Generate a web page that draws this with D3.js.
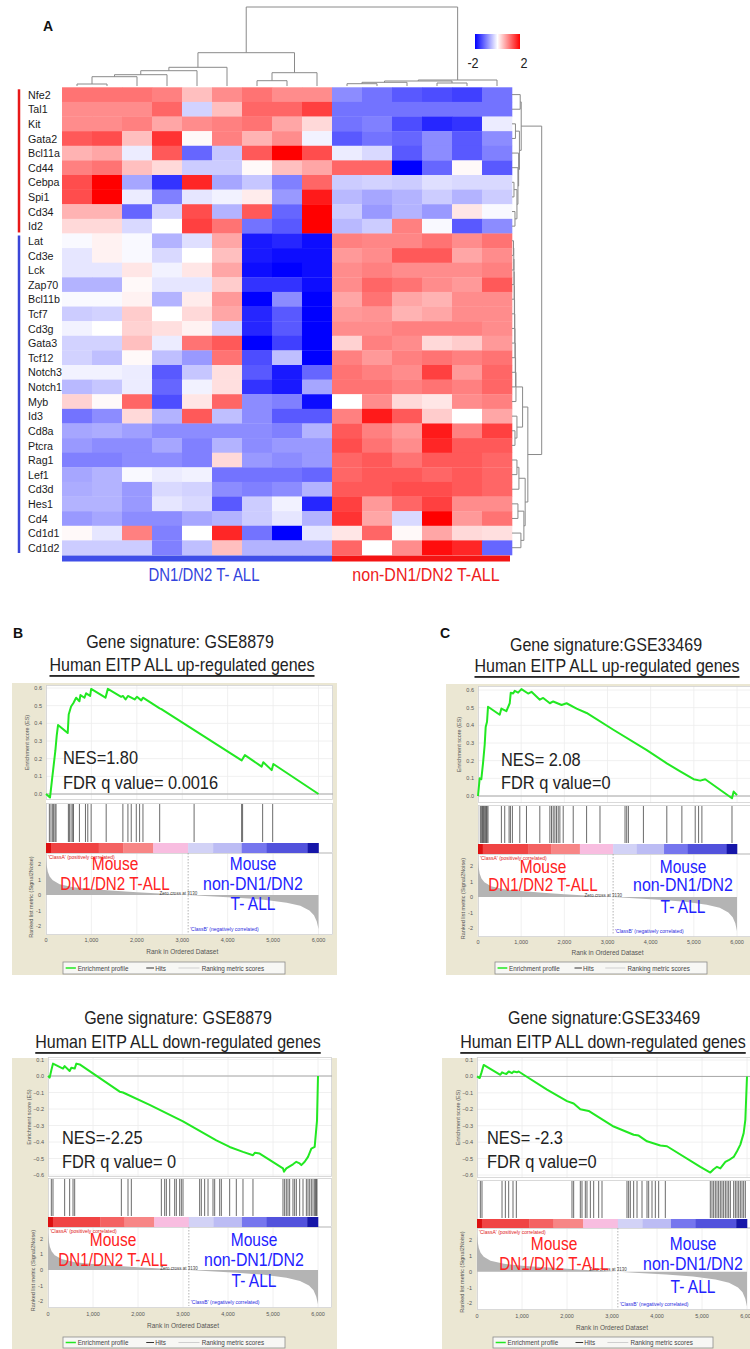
<!DOCTYPE html>
<html>
<head>
<meta charset="utf-8">
<script src="https://cdn.jsdelivr.net/npm/d3@7"></script>
<style>
  body { margin: 0; background: #fff; }
  svg { display: block; }
  text { font-family: "Liberation Sans", Arial, sans-serif; }
</style>
</head>
<body>
<script>
// ---- heatmap data ----
var genes = ["Nfe2","Tal1","Kit","Gata2","Bcl11a","Cd44","Cebpa","Spi1","Cd34","Id2",
  "Lat","Cd3e","Lck","Zap70","Bcl11b","Tcf7","Cd3g","Gata3","Tcf12","Notch3","Notch1","Myb",
  "Id3","Cd8a","Ptcra","Rag1","Lef1","Cd3d","Hes1","Cd4","Cd1d1","Cd1d2"];
var nUpGenes = 10;          // first 10 genes = red group
var nDnCols = 9;            // first 9 samples = DN1/DN2 T-ALL
var groupNames = ["DN1/DN2 T- ALL", "non-DN1/DN2 T-ALL"];

// z-scores, one row per gene, 15 samples
var heat = [
  [1.1,1.1,1.1,1.0,0.5,0.9,1.1,0.9,0.9,-0.9,-1.1,-1.3,-1.4,-1.5,-1.1],
  [0.9,0.9,0.9,1.2,-0.35,0.5,1.2,1.2,1.5,-1.1,-1.1,-1.1,-1.1,-1.1,-1.1],
  [0.9,0.9,1.0,0.7,0.9,1.0,1.1,0.7,0.3,-1.1,-1.0,-1.4,-1.7,-1.6,-0.15],
  [1.3,1.4,0.5,1.6,0.05,1.0,0.6,0.9,-0.1,-1.3,-1.1,-1.2,-0.9,-1.3,-0.9],
  [0.6,0.7,-0.15,1.3,-1.2,-0.45,1.3,2.0,1.4,-0.15,-0.3,-1.3,-0.9,-1.3,-1.0],
  [1.0,1.1,0.5,0.3,-0.4,-0.4,0.05,0.5,0.7,1.2,1.2,-2.0,-1.2,0.05,-1.3],
  [1.4,2.0,-0.7,-1.6,1.7,-0.7,-0.45,-1.0,1.2,-0.4,-0.35,-0.4,-0.25,-0.3,-0.3],
  [1.4,2.0,-0.15,-1.0,-0.2,-0.1,0.15,-0.8,1.8,-0.55,-0.7,-0.6,-0.4,-0.6,-0.4],
  [0.6,0.6,-1.2,-0.35,1.4,-0.6,1.3,-1.2,2.0,-0.4,-0.8,-0.6,-0.8,0.2,-0.05],
  [0.3,0.3,-0.3,0.0,1.5,1.1,-1.1,-1.3,2.0,-0.55,-0.4,1.0,-0.05,-1.3,-0.9],
  [-0.05,0.1,-0.05,-0.6,-0.25,0.7,-1.8,-1.7,-1.9,1.0,0.95,0.95,1.1,0.9,1.1],
  [-0.2,0.1,-0.05,-0.3,0.0,0.5,-1.8,-1.9,-1.9,0.8,0.9,1.3,1.3,0.7,0.9],
  [-0.2,-0.2,0.2,-0.1,0.2,0.7,-1.9,-2.0,-1.9,0.9,1.0,0.9,0.9,0.9,1.0],
  [-0.6,-0.6,0.05,-0.2,-0.2,0.4,-1.6,-1.6,-1.9,0.9,1.2,1.1,0.9,0.8,1.3],
  [-0.05,-0.05,0.1,-0.6,0.15,0.8,-2.0,-0.9,-2.0,0.7,1.1,0.7,0.6,0.9,0.9],
  [-0.4,-0.35,0.4,0.0,0.3,0.7,-1.7,-1.3,-2.0,0.8,0.85,0.6,0.7,0.9,0.9],
  [-0.1,0.0,0.35,0.25,0.1,-0.35,-1.7,-1.3,-2.0,0.9,0.9,1.0,1.0,1.0,0.9],
  [-0.35,-0.35,0.5,-0.15,1.1,1.3,-2.0,-1.5,-2.0,0.35,1.0,0.9,0.3,0.4,0.8],
  [-0.35,-0.5,0.05,-0.5,-0.8,1.1,-1.4,-0.5,-2.0,1.0,0.8,1.0,1.1,1.0,1.1],
  [-0.1,-0.1,-0.15,-1.3,-0.45,0.25,-1.3,-1.8,-1.2,1.1,1.0,0.9,1.5,0.8,1.2],
  [-0.55,-0.45,-0.15,-1.2,-0.1,0.25,-1.6,-1.8,-0.7,1.1,1.1,1.0,1.1,1.0,1.2],
  [0.35,0.05,1.2,-1.4,0.2,1.2,-0.9,-1.0,-1.9,0.0,0.9,0.3,0.2,0.9,1.0],
  [-1.1,-0.9,0.3,-0.6,1.3,-0.5,-0.9,-1.3,-1.3,1.0,1.8,1.3,0.4,0.0,0.7],
  [-0.7,-0.65,-0.75,-0.9,-0.9,-0.9,-0.9,-1.0,-0.6,1.3,1.0,0.8,1.8,1.0,1.5],
  [-0.8,-0.9,-0.9,-0.7,-1.0,-0.6,-0.9,-0.8,-0.8,1.4,1.1,0.9,1.7,1.3,1.3],
  [-1.0,-1.0,-0.9,-0.9,-1.0,0.3,-0.8,-0.9,-0.8,1.2,1.3,1.1,1.3,1.3,1.2],
  [-0.7,-0.6,-0.05,-0.15,-0.1,-1.1,-1.1,-1.1,-1.2,1.2,1.3,1.3,1.2,1.3,1.2],
  [-0.65,-0.6,-0.8,-0.3,-0.35,-0.9,-1.0,-0.9,-0.6,1.3,1.3,1.4,1.4,1.3,1.2],
  [-0.6,-0.6,-0.8,-0.2,-0.3,-1.3,-0.4,-0.1,-1.7,1.5,0.8,1.2,1.5,0.9,0.9],
  [-0.8,-0.7,-0.9,-0.9,-0.7,-0.6,-0.4,-0.2,-0.6,1.6,0.7,-0.3,2.0,0.8,1.1],
  [0.05,-0.2,1.0,-1.0,0.0,1.7,-1.1,-2.0,-0.2,0.2,1.2,0.05,0.7,0.3,0.25],
  [-0.4,-0.4,-0.4,-1.0,-0.5,0.5,-0.6,-0.6,-0.6,1.2,0.0,0.9,1.9,1.7,-1.2]
];

// dendrograms, linkage style [childA, childB, height]; ids >= n are earlier merges
var colMerges = [[0,1,2.0],[15,2,9.3],[16,3,11.3],[17,4,15.3],[18,5,18.7],[6,7,5.3],
  [20,8,13.3],[19,21,33.3],[9,10,2.3],[23,11,3.7],[12,13,3.0],[24,25,5.0],[26,14,6.0],[22,27,79]];
var rowMerges = [[0,1,8.3],[2,3,3.5],[6,7,2.0],[8,9,3.0],[34,35,5.0],[5,36,6.0],[4,37,6.7],
  [33,38,7.5],[32,39,9.3],
  [10,11,1.5],[41,12,1.8],[42,13,2.0],[43,14,2.2],[44,15,2.4],[45,16,2.6],[46,17,2.8],
  [47,18,3.0],[48,19,3.3],[49,20,3.6],[50,21,4.0],
  [23,24,3.0],[22,52,5.0],[51,53,10.7],
  [25,26,5.0],[55,27,7.0],[28,29,6.0],[30,31,9.0],[57,58,12.0],[56,59,13.3],
  [54,60,16.0],[40,61,30.0]];

// ---- GSEA data (rank, ES) ----
var esB1 = [[0,0],[88,-0.02],[132,0.08],[170,0.165],[206,0.245],[236,0.33],[265,0.39],[478,0.345],
  [500,0.45],[552,0.495],[604,0.515],[663,0.545],[736,0.525],[758,0.56],[847,0.545],[883,0.57],
  [972,0.555],[994,0.595],[1310,0.545],[1362,0.595],[1656,0.55],[1693,0.555],[1752,0.535],
  [1804,0.555],[1951,0.535],[2002,0.55],[2098,0.53],[2135,0.545],[2503,0.485],[2540,0.48],
  [4307,0.19],[4380,0.22],[4748,0.155],[4785,0.18],[4969,0.135],[5006,0.17],[6000,0]];
var hitsB1 = [74,110,147,169,199,221,493,515,552,589,604,736,869,920,994,1325,1693,1804,1877,
  1988,2061,2135,2503,3261,4307,4329,4770,4991];

var esC1 = [[0,0],[39,0.1],[77,0.095],[116,0.185],[155,0.29],[178,0.39],[209,0.42],[232,0.505],
  [503,0.46],[542,0.495],[658,0.48],[735,0.525],[759,0.585],[813,0.58],[852,0.595],[929,0.585],
  [1006,0.605],[1161,0.58],[1239,0.59],[1432,0.545],[1510,0.555],[1665,0.525],[1742,0.535],
  [1936,0.515],[2052,0.525],[2284,0.495],[2516,0.47],[3135,0.375],[3910,0.26],[4374,0.185],
  [4684,0.14],[4994,0.095],[5148,0.087],[5264,0.095],[5884,-0.013],[5923,0.025],[6000,0.005]];
var hitsC1 = [54,77,101,116,132,155,178,194,209,232,542,619,720,751,797,968,1123,1432,1665,
  1703,1742,1781,1819,1858,1897,1974,2206,2516,2826,3406,3445,3484,3832,4374,4723,5032,5110,
  5187,5884];

var esB2 = [[0,0],[37,-0.01],[74,0.035],[111,0.075],[333,0.045],[370,0.06],[481,0.03],[518,0.05],
  [593,0.045],[630,0.075],[704,0.07],[1593,-0.095],[1667,-0.1],[2259,-0.175],[3000,-0.275],
  [3741,-0.39],[4037,-0.43],[4333,-0.46],[4555,-0.48],[4600,-0.465],[4704,-0.47],[5222,-0.56],
  [5244,-0.58],[5296,-0.56],[5444,-0.535],[5518,-0.52],[5593,-0.53],[5630,-0.54],[5704,-0.52],
  [5778,-0.49],[5852,-0.44],[5926,-0.43],[5978,-0.27],[6000,0]];
var hitsB2 = [74,111,370,481,556,593,1630,1778,1852,2519,2593,2630,2704,2815,2852,2926,2963,
  3000,3370,3407,3481,3556,3667,3704,3815,3852,4037,4185,4333,4555,5222,5259,5296,5333,5370,
  5444,5481,5519,5593,5667,5741,5778,5815,5852,5889,5926,5948,5963,5978];

var esC2 = [[0,0],[59,-0.01],[96,0.02],[148,0.07],[519,0.01],[556,0.025],[593,0.02],[652,0.015],
  [704,0.03],[778,0.02],[815,0.03],[889,0.025],[926,0.03],[1037,0.01],[1556,-0.08],[2000,-0.15],
  [2148,-0.165],[2296,-0.2],[2481,-0.21],[3037,-0.305],[3481,-0.355],[3593,-0.36],[3778,-0.395],
  [4074,-0.42],[4222,-0.425],[4963,-0.55],[5185,-0.585],[5259,-0.565],[5333,-0.55],[5407,-0.56],
  [5519,-0.52],[5593,-0.51],[5704,-0.49],[5778,-0.455],[5852,-0.415],[5926,-0.345],[5963,-0.265],
  [6000,0]];
var hitsC2 = [74,111,556,630,704,800,874,2111,2148,2296,2333,2407,2444,2519,2593,2704,2778,
  3333,3370,3407,3481,3556,3667,3778,3815,3889,3963,4037,4185,5185,5222,5259,5296,5333,5370,
  5407,5444,5481,5519,5556,5593,5630,5704,5741,5778,5815,5852,5889,5926,5963];

// ranked list metric (Signal2Noise), shared by all four panels
var rankedMetric = [[0,2.4],[15,1.9],[40,1.5],[80,1.2],[150,0.95],[300,0.7],[600,0.5],[1000,0.38],
  [1500,0.28],[2000,0.18],[2600,0.08],[3130,0],[3600,-0.08],[4200,-0.18],[4800,-0.3],[5300,-0.5],
  [5600,-0.7],[5800,-1.0],[5900,-1.3],[5960,-1.7],[6000,-2.2]];
var zeroCross = 3130;
var colorBarEdges = [0,110,1160,1700,2360,3130,3680,4310,4860,5760,6000];
var colorBarLevels = [5,4,3,2,1,-1,-2,-3,-4,-5];
var rankTicks = [0,1000,2000,3000,4000,5000,6000];
var metricTicks = [-2,-1,0,1,2];
var esTicksUp = [0,0.1,0.2,0.3,0.4,0.5,0.6];
var esTicksDown = [0.1,0,-0.1,-0.2,-0.3,-0.4,-0.5,-0.6];

var panelTitles = ["Gene signature:  GSE8879","Gene signature:GSE33469","Gene signature:  GSE8879","Gene signature:GSE33469"];
var panelSubtitles = ["Human  EITP ALL up-regulated genes","Human  EITP ALL up-regulated genes",
  "Human  EITP ALL down-regulated genes","Human  EITP ALL down-regulated genes"];
var nesLabels = ["NES=1.80","NES= 2.08","NES=-2.25","NES= -2.3"];
var fdrLabels = ["FDR q value= 0.0016","FDR q value=0","FDR q value= 0","FDR q value=0"];

// ---- page ----
var svg = d3.select("body").append("svg").attr("width", 750).attr("height", 1349);

function label(g, s, x, y, size, sx, fill, anchor) {
  return g.append("text")
    .attr("transform", "translate(" + x + "," + y + ") scale(" + sx + ",1)")
    .attr("font-size", size).attr("fill", fill)
    .attr("text-anchor", anchor || "start")
    .attr("dominant-baseline", "central")
    .text(s);
}

/* ===== panel A: heatmap ===== */
var hx = d3.scaleBand().domain(d3.range(15)).range([62, 512]);
var hy = d3.scaleBand().domain(genes).range([87.3, 555]);
var heatColor = d3.scaleLinear().domain([-2, 0, 2]).range(["#0000ff", "#ffffff", "#ff0000"]).clamp(true);

var cells = [];
heat.forEach(function(row, i) {
  row.forEach(function(v, j) { cells.push({g: genes[i], c: j, v: v}); });
});
svg.append("g").selectAll("rect").data(cells).join("rect")
  .attr("x", function(d) { return hx(d.c); })
  .attr("y", function(d) { return hy(d.g); })
  .attr("width", hx.bandwidth() + 0.3)
  .attr("height", hy.bandwidth() + 0.3)
  .attr("fill", function(d) { return heatColor(d.v); });

// gene labels
var gl = svg.append("g");
genes.forEach(function(d) {
  label(gl, d, 28, hy(d) + hy.bandwidth() / 2, 11.5, 0.93, "#1a1a1a");
});

// group side lines
svg.append("line").attr("x1", 19).attr("x2", 19)
  .attr("y1", hy(genes[0]) + 2).attr("y2", hy(genes[nUpGenes - 1]) + hy.bandwidth() - 1)
  .attr("stroke", "#e81818").attr("stroke-width", 2.5);
svg.append("line").attr("x1", 19).attr("x2", 19)
  .attr("y1", hy(genes[nUpGenes]) + 2).attr("y2", hy(genes[genes.length - 1]) + hy.bandwidth() - 2)
  .attr("stroke", "#3a46d8").attr("stroke-width", 2.5);

// sample group bars + labels
svg.append("rect").attr("x", hx(0)).attr("y", 555.5)
  .attr("width", hx(nDnCols) - hx(0)).attr("height", 6).attr("fill", "#3f4ee8");
svg.append("rect").attr("x", hx(nDnCols)).attr("y", 555.5)
  .attr("width", hx(14) + hx.bandwidth() - 2 - hx(nDnCols)).attr("height", 6).attr("fill", "#f41414");
label(svg, groupNames[0], (hx(0) + hx(nDnCols)) / 2 + 7, 575, 18, 0.83, "#3344dd", "middle");
label(svg, groupNames[1], (hx(nDnCols) + hx(14) + hx.bandwidth()) / 2 + 4, 575, 18, 0.89, "#ee2020", "middle");

// dendrograms
function dendroPaths(merges, n, leafPos, hScale, top) {
  var pos = [], ht = [], out = [];
  for (var i = 0; i < n; i++) { pos.push(leafPos(i)); ht.push(0); }
  merges.forEach(function(m) {
    var a = m[0], b = m[1], h = m[2];
    if (top)
      out.push("M" + pos[a] + "," + hScale(ht[a]) + "V" + hScale(h) + "H" + pos[b] + "V" + hScale(ht[b]));
    else
      out.push("M" + hScale(ht[a]) + "," + pos[a] + "H" + hScale(h) + "V" + pos[b] + "H" + hScale(ht[b]));
    pos.push((pos[a] + pos[b]) / 2);
    ht.push(h);
  });
  return out;
}
var colH = d3.scaleLinear().domain([0, 79]).range([86, 7]);
var rowH = d3.scaleLinear().domain([0, 30]).range([512, 541.7]);
svg.append("g").selectAll("path")
  .data(dendroPaths(colMerges, 15, function(i) { return hx(i) + hx.bandwidth() / 2; }, colH, true))
  .join("path").attr("d", function(d) { return d; })
  .attr("fill", "none").attr("stroke", "#8a8a8a").attr("stroke-width", 1);
svg.append("g").selectAll("path")
  .data(dendroPaths(rowMerges, genes.length, function(i) { return hy(genes[i]) + hy.bandwidth() / 2; }, rowH, false))
  .join("path").attr("d", function(d) { return d; })
  .attr("fill", "none").attr("stroke", "#8a8a8a").attr("stroke-width", 1);

// colour key
var defs = svg.append("defs");
var grad = defs.append("linearGradient").attr("id", "key");
[-2, -1, 0, 1, 2].forEach(function(v) {
  grad.append("stop").attr("offset", ((v + 2) / 4 * 100) + "%").attr("stop-color", heatColor(v));
});
var keyX = d3.scaleLinear().domain([-2, 2]).range([475, 520]);
svg.append("rect").attr("x", keyX(-2)).attr("y", 34).attr("width", keyX(2) - keyX(-2)).attr("height", 15)
  .attr("fill", "url(#key)");
label(svg, "-2", keyX(-2) - 2, 63, 14, 0.9, "#222", "middle");
label(svg, "2", keyX(2) + 4, 63, 14, 0.9, "#222", "middle");
label(svg, "A", 48, 26, 14, 1, "#111", "middle").attr("font-weight", "bold");

/* ===== panels B / C: GSEA plots ===== */
var gseaLayouts = [
  {letter: "B", lx: 18, ly: 633, tx: 180, ty: 642, sx: 182, sy: 665,
   box: [12, 683, 337, 975], plot: [46, 685, 333, 935], xr: [46, 318.5], esDom: [0, 0.6], esRng: [794, 688], esBot: 800,
   hits: [803, 842], cb: [843, 853], rl0: 895, rlU: 15.5, tickY: 940, labY: 951, leg: [63, 962, 285, 974],
   nes: [63, 758, 783], red: [115, 864, 884], blue: [253, 864, 884, 904]},
  {letter: "C", lx: 445, ly: 633, tx: 606, ty: 645, sx: 607, sy: 666,
   box: [446, 684, 750, 975], plot: [478, 686, 752, 937], xr: [478, 737], esDom: [0, 0.6], esRng: [796, 690], esBot: 803,
   hits: [805, 843], cb: [844, 854], rl0: 897, rlU: 15.5, tickY: 942, labY: 952, leg: [495, 962, 707, 974],
   nes: [501, 760, 783], red: [543, 867, 885], blue: [683, 867, 885, 907]},
  {letter: "", tx: 178, ty: 1018, sx: 178, sy: 1042,
   box: [12, 1058, 337, 1349], plot: [48, 1057, 332, 1308], xr: [48, 318], esDom: [-0.6, 0.1], esRng: [1175, 1059.5], esBot: 1177,
   hits: [1178, 1216], cb: [1217, 1227], rl0: 1270, rlU: 15.6, tickY: 1314, labY: 1325, leg: [63, 1337, 285, 1348],
   nes: [62, 1138, 1162], red: [113, 1240, 1260], blue: [254, 1240, 1260, 1281]},
  {letter: "", tx: 604, ty: 1018, sx: 603, sy: 1042,
   box: [442, 1058, 750, 1349], plot: [477, 1057, 752, 1310], xr: [477, 747], esDom: [-0.6, 0.1], esRng: [1175, 1060], esBot: 1178,
   hits: [1180, 1218], cb: [1219, 1228], rl0: 1271.7, rlU: 15.8, tickY: 1316, labY: 1327, leg: [493, 1337, 713, 1348],
   nes: [487, 1138, 1162], red: [554, 1244, 1264], blue: [693, 1244, 1264, 1287]}
];
var gseaData = [[esB1, hitsB1], [esC1, hitsC1], [esB2, hitsB2], [esC2, hitsC2]];

var barColor = d3.scaleOrdinal().domain([5, 4, 3, 2, 1, -1, -2, -3, -4, -5])
  .range(["#dc1010", "#f04444", "#f46262", "#f78686", "#f8bde0", "#d2d2f6", "#bcbcf4", "#7676ee", "#5252dc", "#1616a8"]);

function gsea(L, k) {
  var es = gseaData[k][0], hits = gseaData[k][1];
  var g = svg.append("g");
  var xr = d3.scaleLinear().domain([0, 6000]).range(L.xr);
  var ye = d3.scaleLinear().domain(L.esDom).range(L.esRng);
  var yr = d3.scaleLinear().domain([-2, 2]).range([L.rl0 + 2 * L.rlU, L.rl0 - 2 * L.rlU]);
  var esTicks = L.esDom[0] < 0 ? esTicksDown : esTicksUp;
  var pl = L.plot[0], pt = L.plot[1], pr = L.plot[2], pb = L.plot[3];

  g.append("rect").attr("x", L.box[0]).attr("y", L.box[1])
    .attr("width", L.box[2] - L.box[0]).attr("height", L.box[3] - L.box[1]).attr("fill", "#ebe7d3");
  g.append("rect").attr("x", pl).attr("y", pt).attr("width", pr - pl).attr("height", pb - pt).attr("fill", "#fff");

  // grid
  rankTicks.forEach(function(t) {
    g.append("line").attr("x1", xr(t)).attr("x2", xr(t)).attr("y1", pt).attr("y2", L.esBot)
      .attr("stroke", "#ececec").attr("stroke-width", 0.8);
    g.append("line").attr("x1", xr(t)).attr("x2", xr(t)).attr("y1", L.cb[1]).attr("y2", pb)
      .attr("stroke", "#ececec").attr("stroke-width", 0.8);
  });
  esTicks.forEach(function(t) {
    g.append("line").attr("x1", pl).attr("x2", pr).attr("y1", ye(t)).attr("y2", ye(t))
      .attr("stroke", "#ececec").attr("stroke-width", 0.8);
  });
  // frames
  [[pt, L.esBot], [L.hits[0], L.cb[1]], [L.cb[1], pb]].forEach(function(f) {
    g.append("rect").attr("x", pl + 0.5).attr("y", f[0] + 0.5).attr("width", pr - pl - 1).attr("height", f[1] - f[0] - 1)
      .attr("fill", "none").attr("stroke", "#d0d0d0").attr("stroke-width", 0.8);
  });
  g.append("line").attr("x1", pl).attr("x2", pr).attr("y1", ye(0)).attr("y2", ye(0))
    .attr("stroke", "#a8a8a8").attr("stroke-width", 1);

  // hits
  g.append("g").selectAll("line").data(hits).join("line")
    .attr("x1", function(d) { return xr(d); }).attr("x2", function(d) { return xr(d); })
    .attr("y1", L.hits[0] + 1).attr("y2", L.hits[1])
    .attr("stroke", "#3c3c3c").attr("stroke-width", 0.9).attr("stroke-opacity", 0.85);

  // colour bar
  colorBarLevels.forEach(function(v, i) {
    g.append("rect").attr("x", xr(colorBarEdges[i])).attr("y", L.cb[0])
      .attr("width", xr(colorBarEdges[i + 1]) - xr(colorBarEdges[i]) + 0.3).attr("height", L.cb[1] - L.cb[0])
      .attr("fill", barColor(v));
  });

  // ranked list metric
  g.append("path").datum(rankedMetric)
    .attr("d", d3.area().x(function(d) { return xr(d[0]); })
      .y0(yr(0)).y1(function(d) { return yr(d[1]); }))
    .attr("fill", "#b4b4b4");
  g.append("line").attr("x1", xr(zeroCross)).attr("x2", xr(zeroCross))
    .attr("y1", L.cb[1]).attr("y2", pb - 2)
    .attr("stroke", "#a0a0a0").attr("stroke-width", 0.8).attr("stroke-dasharray", "1.5,1.5");
  label(g, "Zero cross at " + zeroCross, xr(zeroCross) + 9, yr(0) - 2, 4.5, 1, "#444", "end");
  label(g, "'ClassA' (positively correlated)", xr(0) + 2, L.cb[1] + 3.5, 5, 1, "#e02020");
  label(g, "'ClassB' (negatively correlated)", xr(zeroCross) + 2, pb - 6, 5, 1, "#2a2ae0");

  // enrichment profile
  g.append("path").datum(es)
    .attr("d", d3.line().x(function(d) { return xr(d[0]); }).y(function(d) { return ye(d[1]); }))
    .attr("fill", "none").attr("stroke", "#22e822").attr("stroke-width", 2).attr("stroke-linejoin", "round");

  // axes text
  esTicks.forEach(function(t) {
    label(g, d3.format(".1f")(t), pl - 4, ye(t), 5.5, 1, "#555", "end");
  });
  metricTicks.forEach(function(t) {
    label(g, t, pl - 5, yr(t), 5.5, 1, "#555", "end");
  });
  rankTicks.forEach(function(t) {
    label(g, d3.format(",")(t), xr(t), L.tickY, 5.5, 1, "#555", "middle");
  });
  label(g, "Rank in Ordered Dataset", (L.xr[0] + L.xr[1]) / 2, L.labY, 6.5, 1, "#555", "middle");
  g.append("text").attr("transform", "translate(" + (pl - 19) + "," + ((pt + L.esBot) / 2) + ") rotate(-90)")
    .attr("font-size", 5.5).attr("fill", "#555").attr("text-anchor", "middle").attr("dominant-baseline", "central")
    .text("Enrichment score (ES)");
  g.append("text").attr("transform", "translate(" + (pl - 15) + "," + ((L.cb[1] + pb) / 2 + 3) + ") rotate(-90)")
    .attr("font-size", 5.5).attr("fill", "#555").attr("text-anchor", "middle").attr("dominant-baseline", "central")
    .text("Ranked list metric (Signal2Noise)");

  // legend
  var lx = L.leg[0], ly = L.leg[1], lw = L.leg[2] - L.leg[0], lh = L.leg[3] - L.leg[1], lc = ly + lh / 2;
  g.append("rect").attr("x", lx).attr("y", ly).attr("width", lw).attr("height", lh)
    .attr("fill", "#f7f7f4").attr("stroke", "#8c8c8c").attr("stroke-width", 0.8);
  g.append("line").attr("x1", lx + 0.012 * lw).attr("x2", lx + 0.058 * lw).attr("y1", lc).attr("y2", lc)
    .attr("stroke", "#22e822").attr("stroke-width", 1.5);
  label(g, "Enrichment profile", lx + 0.066 * lw, lc, 6.3, 1, "#444");
  g.append("line").attr("x1", lx + 0.375 * lw).attr("x2", lx + 0.41 * lw).attr("y1", lc).attr("y2", lc)
    .attr("stroke", "#333").attr("stroke-width", 1);
  label(g, "Hits", lx + 0.415 * lw, lc, 6.3, 1, "#444");
  g.append("line").attr("x1", lx + 0.52 * lw).attr("x2", lx + 0.615 * lw).attr("y1", lc).attr("y2", lc)
    .attr("stroke", "#cfcfcf").attr("stroke-width", 1);
  label(g, "Ranking metric scores", lx + 0.625 * lw, lc, 6.3, 1, "#444");

  // statistics and group labels
  label(g, nesLabels[k], L.nes[0], L.nes[1], 18, 0.91, "#222");
  label(g, fdrLabels[k], L.nes[0], L.nes[2], 18, 0.91, "#222");
  label(g, "Mouse", L.red[0], L.red[1], 18.5, 0.84, "#ff2222", "middle");
  label(g, "DN1/DN2 T-ALL", L.red[0], L.red[2], 18.5, 0.82, "#ff2222", "middle");
  label(g, "Mouse", L.blue[0], L.blue[1], 18.5, 0.84, "#2222ff", "middle");
  label(g, "non-DN1/DN2", L.blue[0], L.blue[2], 18.5, 0.86, "#2222ff", "middle");
  label(g, "T- ALL", L.blue[0], L.blue[3], 18.5, 0.84, "#2222ff", "middle");

  // titles
  label(svg, panelTitles[k], L.tx, L.ty, 18, 0.89, "#222", "middle");
  label(svg, panelSubtitles[k], L.sx, L.sy, 18, 0.89, "#222", "middle").attr("text-decoration", "underline");
  if (L.letter) label(svg, L.letter, L.lx, L.ly, 14, 1, "#111", "middle").attr("font-weight", "bold");
}
gseaLayouts.forEach(function(L, k) { gsea(L, k); });
</script>
</body>
</html>
